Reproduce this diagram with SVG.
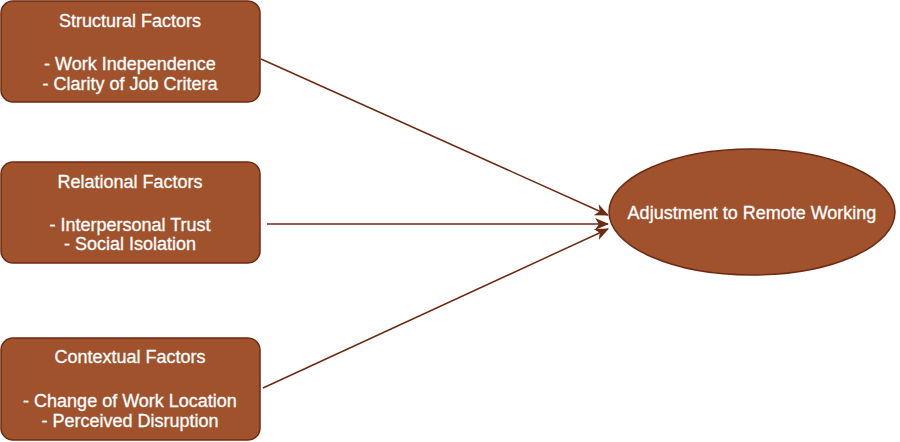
<svg xmlns="http://www.w3.org/2000/svg" width="900" height="442" viewBox="0 0 900 442">
<defs>
<style>
.node{fill:#A0522D;stroke:#6D2A12;stroke-width:1.5}
.t{font-family:"Liberation Sans",Arial,sans-serif;font-size:18px;fill:#FFFFFF;stroke:#FFFFFF;stroke-width:0.3;text-anchor:middle}
.edge{stroke:#6D2A12;stroke-width:1.5;fill:none}
</style>
<marker id="arr" viewBox="0 0 14 14" refX="13" refY="7" markerWidth="14" markerHeight="14" markerUnits="userSpaceOnUse" orient="auto">
<path d="M0,1 L14,7 L0,13 L4,7 Z" fill="#6D2A12"/>
</marker>
</defs>
<rect width="900" height="442" fill="#FFFFFF"/>
<g id="connectors">
<line class="edge" x1="261" y1="59" x2="608" y2="215" marker-end="url(#arr)"/>
<line class="edge" x1="267" y1="224" x2="608" y2="224" marker-end="url(#arr)"/>
<line class="edge" x1="263" y1="388" x2="608" y2="229" marker-end="url(#arr)"/>
</g>
<g id="structural">
<rect class="node" x="1" y="1" width="259" height="101" rx="12"/>
<text class="t" x="130" y="27">Structural Factors</text>
<text class="t" x="130" y="70">- Work Independence</text>
<text class="t" x="130" y="90">- Clarity of Job Critera</text>
</g>
<g id="relational">
<rect class="node" x="1" y="162" width="259" height="101" rx="12"/>
<text class="t" x="130" y="188">Relational Factors</text>
<text class="t" x="130" y="231">- Interpersonal Trust</text>
<text class="t" x="130" y="250">- Social Isolation</text>
</g>
<g id="contextual">
<rect class="node" x="1" y="338" width="259" height="102" rx="12"/>
<text class="t" x="130" y="363">Contextual Factors</text>
<text class="t" x="130" y="407">- Change of Work Location</text>
<text class="t" x="130" y="427">- Perceived Disruption</text>
</g>
<g id="adjustment">
<ellipse class="node" cx="752" cy="212" rx="143" ry="63"/>
<text class="t" x="752" y="219">Adjustment to Remote Working</text>
</g>
</svg>
